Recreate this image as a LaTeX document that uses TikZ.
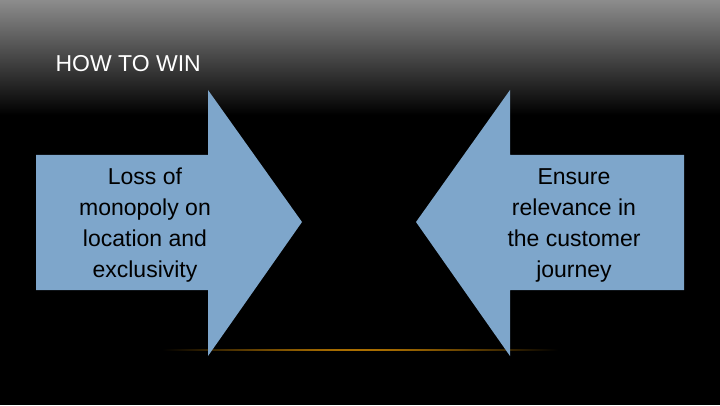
\documentclass[tikz,border=0pt]{standalone}
\usepackage{fontspec}
\setmainfont{Liberation Sans}
\definecolor{arrowblue}{HTML}{7EA6CB}
\tikzstyle{arrowtext} = [align=center, font=\fontsize{23}{31}\selectfont, text=black]
\tikzstyle{arrowshape} = [fill=arrowblue]

\begin{document}
\begin{tikzpicture}[x=1pt,y=1pt]
    % Background
    \useasboundingbox (0,0) rectangle (720,405);
    \fill[black] (0,0) rectangle (720,405);
    \shade[top color=black!45, bottom color=black] (0,290) rectangle (720,405);
    \shade[inner color=orange!70!yellow, outer color=black] (150,54) rectangle (570,57);

    % Title
    \node(title) [anchor=west, text=white, font=\fontsize{23}{26}\selectfont] at (52,341) {HOW TO WIN};

    % Arrows
    \fill[arrowshape] (36,250) -- (208,250) -- (208,315) -- (302,183) -- (208,49) -- (208,115) -- (36,115) -- cycle;
    \fill[arrowshape] (684,250) -- (510,250) -- (510,315) -- (416,183) -- (510,49) -- (510,115) -- (684,115) -- cycle;

    % Labels
    \node(loss) [arrowtext] at (145,180) {Loss of\\monopoly on\\location and\\exclusivity};
    \node(ensure) [arrowtext] at (574,180) {Ensure\\relevance in\\the customer\\journey};
\end{tikzpicture}
\end{document}
